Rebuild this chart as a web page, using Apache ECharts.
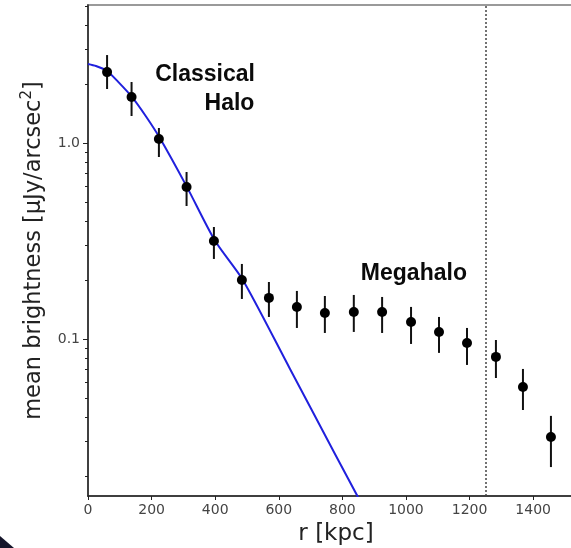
<!DOCTYPE html>
<html><head><meta charset="utf-8">
<script src="https://cdn.jsdelivr.net/npm/echarts@6/dist/echarts.min.js"></script>
<style>html,body{margin:0;padding:0;background:#fff}#c{width:571px;height:548px}</style>
</head><body><div id="c"></div>
<script>
// Measured points
const radius     = [60, 137, 223, 310, 396, 484, 569, 657, 745, 836, 925, 1016, 1104, 1192, 1283, 1368, 1456];
const brightness = [2.30, 1.717, 1.048, 0.596, 0.316, 0.200, 0.162, 0.1456, 0.1358, 0.1374, 0.1374, 0.122, 0.1086, 0.0954, 0.081, 0.0569, 0.0316];
const errHigh    = [2.81, 2.047, 1.193, 0.711, 0.3727, 0.2414, 0.1953, 0.1758, 0.1657, 0.1677, 0.1638, 0.1457, 0.1295, 0.1138, 0.0988, 0.0703, 0.0405];
const errLow     = [1.886, 1.373, 0.848, 0.477, 0.256, 0.160, 0.1295, 0.1138, 0.1073, 0.1086, 0.1073, 0.0943, 0.0849, 0.0737, 0.0632, 0.0434, 0.0222];
// Classical halo model curve
const modelR = [0, 25, 60, 95, 138, 182, 226, 311, 399, 487, 635, 700, 849, 870];
const modelB = [2.53, 2.47, 2.33, 2.05, 1.72, 1.37, 1.06, 0.597, 0.318, 0.20, 0.0705, 0.0446, 0.0156, 0.0138];
// Axes
const xTicks = [0, 200, 400, 600, 800, 1000, 1200, 1400];
const yMajorTicks = [0.1, 1.0];
const yMinorTicks = [0.02, 0.03, 0.04, 0.05, 0.06, 0.07, 0.08, 0.09, 0.2, 0.3, 0.4, 0.5, 0.6, 0.7, 0.8, 0.9, 2, 3, 4, 5];
const boundaryR = 1250;
const annotations = [
  { text: 'Classical', r: 368, b: 2.22 },
  { text: 'Halo', r: 445, b: 1.58 },
  { text: 'Megahalo', r: 1025, b: 0.215 }
];

const chart = echarts.init(document.getElementById('c'), null, { renderer: 'canvas' });
const tickFont = { fontFamily: 'DejaVu Sans', fontSize: 14, color: '#444' };

chart.setOption({
  animation: false,
  backgroundColor: '#fff',
  grid: { left: 88, top: 5, width: 496, height: 491, show: true, borderColor: '#9a9a9a', borderWidth: 2, containLabel: false, outerBoundsMode: 'none' },
  xAxis: {
    type: 'value', min: 0, max: 1560, interval: 200,
    name: 'r [kpc]', nameLocation: 'middle', nameGap: 27,
    nameTextStyle: { fontFamily: 'DejaVu Sans', fontSize: 23, color: '#222' },
    axisLine: { show: true, lineStyle: { color: '#222', width: 1.5 } },
    axisTick: { show: true, length: 4, customValues: xTicks, lineStyle: { color: '#222' } },
    axisLabel: Object.assign({ margin: 7, customValues: xTicks, formatter: v => String(v) }, tickFont),
    splitLine: { show: false }
  },
  yAxis: [{
    type: 'log', logBase: 10, min: 0.0158, max: 5.06,
    name: 'mean brightness [μJy/arcsec{sup|2}]', nameLocation: 'middle', nameGap: 39,
    nameTextStyle: { fontFamily: 'DejaVu Sans', fontSize: 22.5, color: '#222',
      rich: { sup: { fontFamily: 'DejaVu Sans', fontSize: 15, color: '#222', verticalAlign: 'top', padding: [0, 0, 14, 0] } } },
    axisLine: { show: true, lineStyle: { color: '#222', width: 1.5 } },
    axisTick: { show: true, length: 5, customValues: yMajorTicks, lineStyle: { color: '#222' } },
    axisLabel: Object.assign({ margin: 8, customValues: yMajorTicks, formatter: v => Number(v).toFixed(1) }, tickFont),
    splitLine: { show: false }, minorTick: { show: false }
  }, {
    type: 'log', logBase: 10, min: 0.0158, max: 5.06, position: 'left',
    axisLine: { show: false },
    axisTick: { show: true, length: 3, customValues: yMinorTicks, lineStyle: { color: '#222' } },
    axisLabel: { show: false }, splitLine: { show: false }
  }],
  series: [
    {
      type: 'line', name: 'model', smooth: 0.25, showSymbol: false, clip: true, z: 2,
      data: modelR.map((r, i) => [r, modelB[i]]),
      lineStyle: { color: '#2020dd', width: 2 },
      markLine: {
        silent: true, symbol: 'none', label: { show: false },
        lineStyle: { type: [2, 2], color: '#444', width: 1.5 },
        data: [{ xAxis: boundaryR }]
      }
    },
    {
      type: 'custom', name: 'errors', z: 3,
      data: radius.map((r, i) => [r, errLow[i], errHigh[i]]),
      encode: { x: 0, y: [1, 2] },
      renderItem: (params, api) => {
        const p1 = api.coord([api.value(0), api.value(1)]);
        const p2 = api.coord([api.value(0), api.value(2)]);
        return { type: 'line', shape: { x1: p1[0], y1: p1[1], x2: p2[0], y2: p2[1] }, style: { stroke: '#111', lineWidth: 2 } };
      }
    },
    {
      type: 'scatter', name: 'data', z: 4, symbol: 'circle', symbolSize: 10,
      itemStyle: { color: '#000', opacity: 1 },
      data: radius.map((r, i) => [r, brightness[i]])
    },
    {
      type: 'scatter', name: 'labels', z: 5, symbolSize: 0, silent: true,
      itemStyle: { opacity: 1 },
      data: annotations.map(a => ({ value: [a.r, a.b], label: { formatter: a.text } })),
      label: { show: true, position: 'inside', fontFamily: 'Liberation Sans', fontWeight: 'bold', fontSize: 23, color: '#0a0a0a', opacity: 1 }
    }
  ],
  graphic: [{
    type: 'polygon', silent: true,
    shape: { points: [[0, 536], [14, 548], [0, 548]] },
    style: { fill: '#15152a' }
  }]
});
</script></body></html>
